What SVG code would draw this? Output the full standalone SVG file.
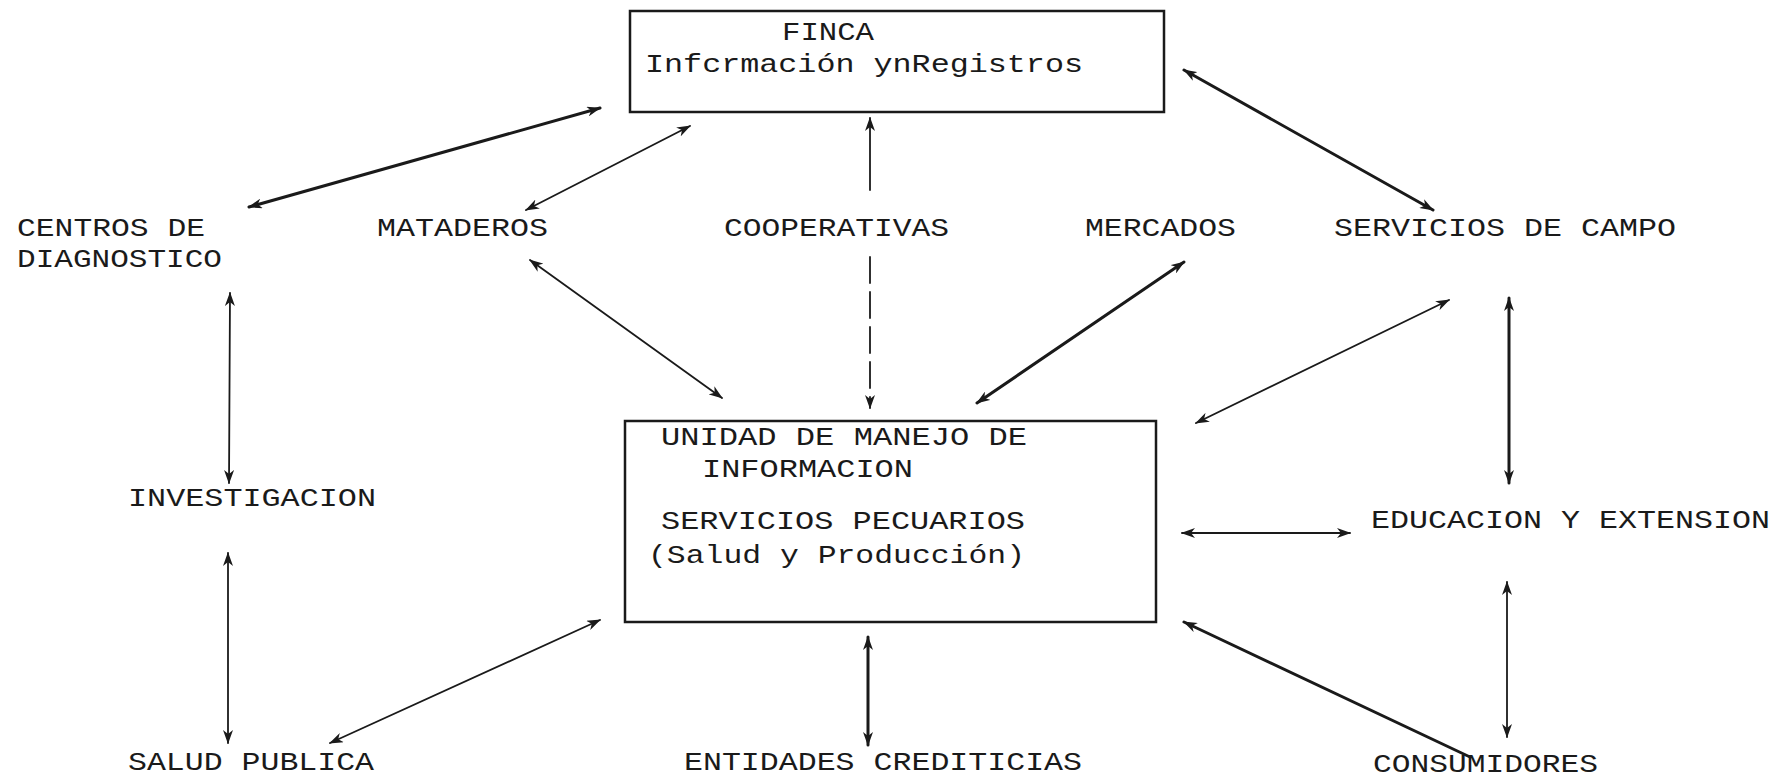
<svg xmlns="http://www.w3.org/2000/svg" width="1776" height="778" viewBox="0 0 1776 778">
<style>
.t{font-family:"Liberation Mono","Courier New",monospace;font-size:26px;fill:#1a1a1a}
.box{fill:none;stroke:#1a1a1a;stroke-width:2.5}
.c{fill:none;stroke:#1a1a1a;stroke-linecap:round}
.k{stroke-width:3}
.n{stroke-width:1.8}
</style>
<defs>
<marker id="a" viewBox="0 0 14 10" refX="13" refY="5" markerWidth="14" markerHeight="10" markerUnits="userSpaceOnUse" orient="auto-start-reverse">
<path d="M0,0 L14,5 L0,10 L4,5 Z" fill="#1a1a1a"/>
</marker>
</defs>
<rect width="1776" height="778" fill="#ffffff"/>

<g id="finca">
<rect class="box" x="630" y="11" width="534" height="101"/>
<text class="t" x="782" y="40" textLength="92" lengthAdjust="spacingAndGlyphs">FINCA</text>
<text class="t" x="645" y="72" textLength="438" lengthAdjust="spacingAndGlyphs">Infcrmación ynRegistros</text>
</g>

<g id="unidad">
<rect class="box" x="625" y="421" width="531" height="201"/>
<text class="t" x="661" y="445" textLength="366" lengthAdjust="spacingAndGlyphs">UNIDAD DE MANEJO DE</text>
<text class="t" x="702" y="477" textLength="211" lengthAdjust="spacingAndGlyphs">INFORMACION</text>
<text class="t" x="661" y="529" textLength="364" lengthAdjust="spacingAndGlyphs">SERVICIOS PECUARIOS</text>
<text class="t" x="648" y="563" textLength="377" lengthAdjust="spacingAndGlyphs">(Salud y Producción)</text>
</g>

<g id="centros">
<text class="t" x="17" y="236" textLength="188" lengthAdjust="spacingAndGlyphs">CENTROS DE</text>
<text class="t" x="17" y="267" textLength="205" lengthAdjust="spacingAndGlyphs">DIAGNOSTICO</text>
</g>
<g id="mataderos"><text class="t" x="377" y="236" textLength="171" lengthAdjust="spacingAndGlyphs">MATADEROS</text></g>
<g id="cooperativas"><text class="t" x="724" y="236" textLength="225" lengthAdjust="spacingAndGlyphs">COOPERATIVAS</text></g>
<g id="mercados"><text class="t" x="1085" y="236" textLength="151" lengthAdjust="spacingAndGlyphs">MERCADOS</text></g>
<g id="servicios-campo"><text class="t" x="1334" y="236" textLength="342" lengthAdjust="spacingAndGlyphs">SERVICIOS DE CAMPO</text></g>
<g id="investigacion"><text class="t" x="128" y="506" textLength="248" lengthAdjust="spacingAndGlyphs">INVESTIGACION</text></g>
<g id="educacion"><text class="t" x="1371" y="528" textLength="399" lengthAdjust="spacingAndGlyphs">EDUCACION Y EXTENSION</text></g>
<g id="salud-publica"><text class="t" x="128" y="770" textLength="246" lengthAdjust="spacingAndGlyphs">SALUD PUBLICA</text></g>
<g id="entidades"><text class="t" x="684" y="770" textLength="398" lengthAdjust="spacingAndGlyphs">ENTIDADES CREDITICIAS</text></g>
<g id="consumidores"><text class="t" x="1373" y="772" textLength="225" lengthAdjust="spacingAndGlyphs">CONSUMIDORES</text></g>

<g id="connectors">
<line class="c k" x1="600" y1="108" x2="249" y2="207" marker-start="url(#a)" marker-end="url(#a)"/>
<line class="c n" x1="690" y1="126" x2="526" y2="210" marker-start="url(#a)" marker-end="url(#a)"/>
<line class="c n" x1="870" y1="190" x2="870" y2="118" marker-end="url(#a)"/>
<line class="c n" x1="870" y1="257" x2="870" y2="408" stroke-dasharray="26 9" marker-end="url(#a)"/>
<line class="c n" x1="530" y1="260" x2="722" y2="398" marker-start="url(#a)" marker-end="url(#a)"/>
<line class="c k" x1="1184" y1="262" x2="977" y2="403" marker-start="url(#a)" marker-end="url(#a)"/>
<line class="c k" x1="1184" y1="70" x2="1433" y2="210" marker-start="url(#a)" marker-end="url(#a)"/>
<line class="c n" x1="1449" y1="300" x2="1196" y2="423" marker-start="url(#a)" marker-end="url(#a)"/>
<line class="c k" x1="1509" y1="298" x2="1509" y2="483" marker-start="url(#a)" marker-end="url(#a)"/>
<line class="c n" x1="1182" y1="533" x2="1350" y2="533" marker-start="url(#a)" marker-end="url(#a)"/>
<line class="c n" x1="1507" y1="582" x2="1507" y2="737" marker-start="url(#a)" marker-end="url(#a)"/>
<line class="c k" x1="1184" y1="622" x2="1470" y2="757" marker-start="url(#a)"/>
<line class="c k" x1="868" y1="637" x2="868" y2="745" marker-start="url(#a)" marker-end="url(#a)"/>
<line class="c n" x1="600" y1="620" x2="330" y2="743" marker-start="url(#a)" marker-end="url(#a)"/>
<line class="c n" x1="230" y1="293" x2="229" y2="483" marker-start="url(#a)" marker-end="url(#a)"/>
<line class="c n" x1="228" y1="553" x2="228" y2="743" marker-start="url(#a)" marker-end="url(#a)"/>
</g>
</svg>
